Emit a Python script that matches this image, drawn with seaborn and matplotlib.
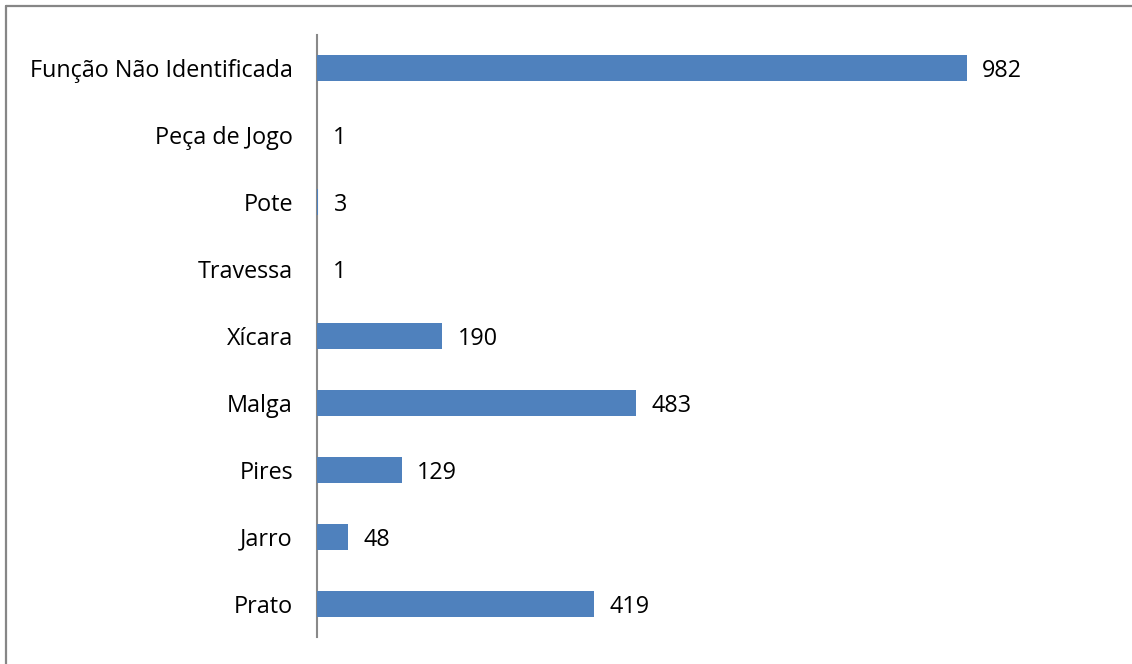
import matplotlib
matplotlib.use("Agg")
import matplotlib.pyplot as plt
from matplotlib.lines import Line2D
import seaborn as sns
import pandas as pd

categories = [
    "Função Não Identificada",
    "Peça de Jogo",
    "Pote",
    "Travessa",
    "Xícara",
    "Malga",
    "Pires",
    "Jarro",
    "Prato",
]
counts = [982, 1, 3, 1, 190, 483, 129, 48, 419]

df = pd.DataFrame({"categoria": categories, "quantidade": counts})

sns.set_style("white")
plt.rcParams["font.family"] = ["Open Sans", "DejaVu Sans"]

W, H = 1132, 664
fig = plt.figure(figsize=(W / 100, H / 100), dpi=100)

# axes placed so the category axis sits at x≈316 px, spanning y 35..637 px
left_px, top_px, bottom_px = 316.5, 35, 637
ax = fig.add_axes([left_px / W, 1 - bottom_px / H, 662 / W, (bottom_px - top_px) / H])

sns.barplot(data=df, x="quantidade", y="categoria", order=categories,
            color="#4F81BD", saturation=1, width=0.39, linewidth=0,
            ax=ax, orient="h")

ax.set_xlim(0, 1000)
ax.set_ylim(len(categories) - 0.5, -0.5)
ax.set_xlabel("")
ax.set_ylabel("")
ax.set_xticks([])
for side in ("top", "right", "bottom"):
    ax.spines[side].set_visible(False)
ax.spines["left"].set_color("#898989")
ax.spines["left"].set_linewidth(1.5)
ax.spines["left"].set_zorder(0.5)
ax.tick_params(axis="y", length=0, pad=17, labelsize=16.8, labelcolor="black")

for cont in ax.containers:
    texts = ax.bar_label(cont, labels=[str(v) for v in counts], padding=11,
                         fontsize=16.8, color="black")
    for t in texts:
        t.set_va("center_baseline")

# chart frame edges (top and left)
fig.add_artist(Line2D([5.5 / W, 5.5 / W], [0, 1 - 5.5 / H], transform=fig.transFigure,
                      color="#868686", linewidth=1.6))
fig.add_artist(Line2D([5.5 / W, 1], [1 - 5.5 / H, 1 - 5.5 / H], transform=fig.transFigure,
                      color="#868686", linewidth=1.6))

fig.savefig("out.png", dpi=100, facecolor="white")
